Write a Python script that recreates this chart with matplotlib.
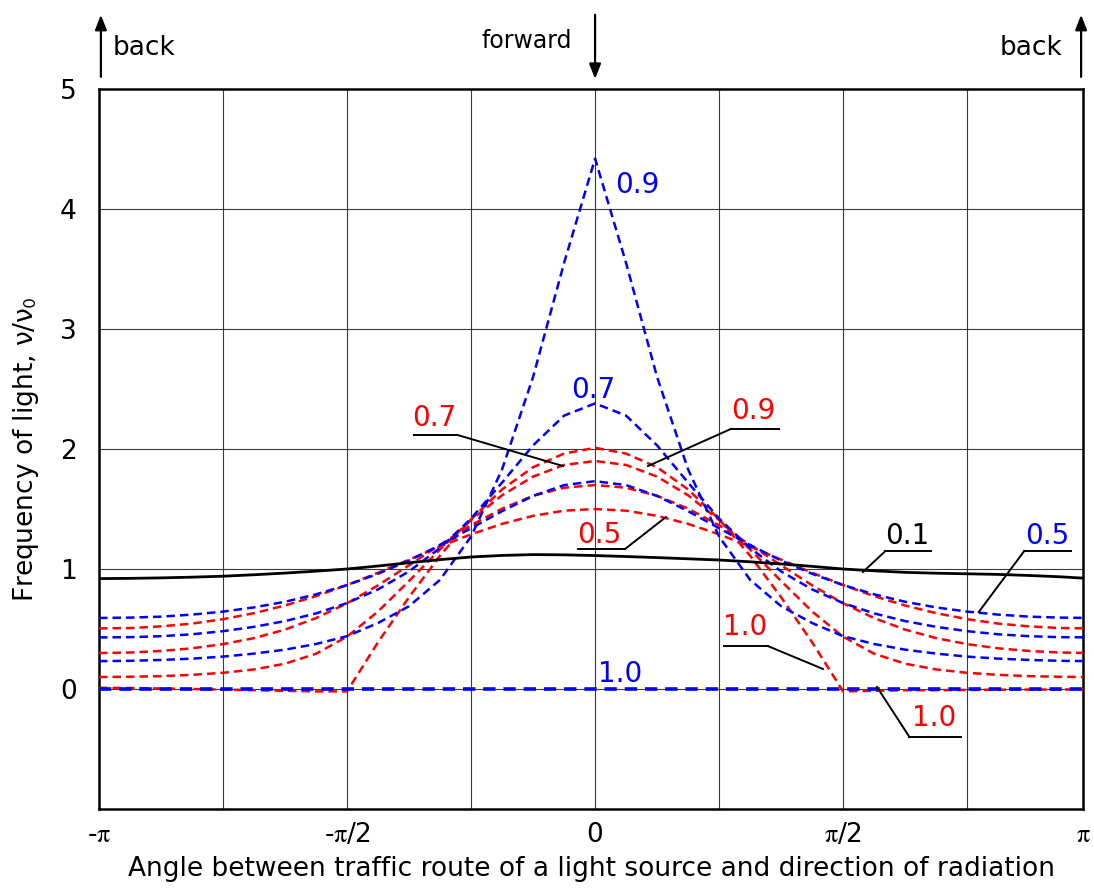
import numpy as np
import matplotlib
matplotlib.use("Agg")
import matplotlib.pyplot as plt

plt.rcParams["font.family"] = ["DejaVu Sans"]
plt.rcParams["mathtext.fontset"] = "stix"

PI = np.pi
# angle samples: k * pi/16, k = -16 .. 16
steps = np.arange(-16, 17)
angle = steps * PI / 16

blue_05 = [0.592, 0.595, 0.603, 0.620, 0.645, 0.680, 0.727, 0.789, 0.866, 0.960, 1.071, 1.199, 1.340, 1.482, 1.609, 1.699, 1.732,
           1.699, 1.609, 1.482, 1.340, 1.199, 1.071, 0.960, 0.866, 0.789, 0.727, 0.680, 0.645, 0.620, 0.603, 0.595, 0.592]
blue_07 = [0.430, 0.432, 0.440, 0.456, 0.482, 0.518, 0.566, 0.630, 0.716, 0.830, 0.980, 1.175, 1.420, 1.720, 2.030, 2.278, 2.380,
           2.278, 2.030, 1.720, 1.420, 1.175, 0.980, 0.830, 0.716, 0.630, 0.566, 0.518, 0.482, 0.456, 0.440, 0.432, 0.430]
blue_09 = [0.232, 0.235, 0.242, 0.253, 0.270, 0.295, 0.328, 0.375, 0.440, 0.550, 0.690, 0.910, 1.270, 1.830, 2.600, 3.550, 4.420,
           3.550, 2.600, 1.830, 1.270, 0.910, 0.690, 0.550, 0.440, 0.375, 0.328, 0.295, 0.270, 0.253, 0.242, 0.235, 0.232]
blue_10 = [0.0, 0.0, 0.0, 0.0, 0.0, 0.0, 0.0, 0.0, 0.0, 0.0, 0.0, 0.0, 0.0, 0.0, 0.0, 0.0, 0.0,
           0.0, 0.0, 0.0, 0.0, 0.0, 0.0, 0.0, 0.0, 0.0, 0.0, 0.0, 0.0, 0.0, 0.0, 0.0, 0.0]

red_05 = [0.505, 0.508, 0.522, 0.545, 0.582, 0.632, 0.696, 0.774, 0.866, 0.969, 1.078, 1.187, 1.289, 1.376, 1.443, 1.486, 1.500,
          1.486, 1.443, 1.376, 1.289, 1.187, 1.078, 0.969, 0.866, 0.774, 0.696, 0.632, 0.582, 0.545, 0.522, 0.508, 0.505]
red_07 = [0.300, 0.304, 0.317, 0.339, 0.374, 0.424, 0.495, 0.591, 0.714, 0.864, 1.031, 1.202, 1.364, 1.503, 1.610, 1.677, 1.700,
          1.677, 1.610, 1.503, 1.364, 1.202, 1.031, 0.864, 0.714, 0.591, 0.495, 0.424, 0.374, 0.339, 0.317, 0.304, 0.300]
red_09 = [0.100, 0.102, 0.107, 0.118, 0.135, 0.163, 0.211, 0.294, 0.436, 0.646, 0.900, 1.163, 1.408, 1.614, 1.770, 1.867, 1.900,
          1.867, 1.770, 1.614, 1.408, 1.163, 0.900, 0.646, 0.436, 0.294, 0.211, 0.163, 0.135, 0.118, 0.107, 0.102, 0.100]
red_10 = [0.010, 0.008, 0.004, 0.000, -0.005, -0.010, -0.015, -0.020, -0.020, 0.390, 0.765, 1.111, 1.414, 1.663, 1.848, 1.962, 2.010,
          1.962, 1.848, 1.663, 1.414, 1.111, 0.765, 0.390, -0.020, -0.015, -0.010, -0.010, -0.008, -0.006, -0.005, -0.004, -0.003]

black_01 = [0.920, 0.922, 0.926, 0.932, 0.940, 0.952, 0.966, 0.982, 1.000, 1.025, 1.052, 1.078, 1.100, 1.113, 1.120, 1.118, 1.112,
            1.104, 1.095, 1.085, 1.075, 1.060, 1.042, 1.022, 1.000, 0.985, 0.972, 0.965, 0.960, 0.955, 0.946, 0.935, 0.920]

x_tick_pos = [-PI, -PI / 2, 0, PI / 2]
x_tick_labels = [r"-$\mathrm{\pi}$", r"-$\mathrm{\pi}$/2", "0", r"$\mathrm{\pi}$/2"]
y_ticks = [0, 1, 2, 3, 4, 5]
X_RIGHT = 3.09

BLUE = "#0000ff"
RED = "#ff0000"

fig = plt.figure(figsize=(10.94, 8.88), dpi=100)
ax = fig.add_axes([99 / 1094, 1 - 809 / 888, (1083 - 99) / 1094, 720 / 888])
ax.set_xlim(-PI, X_RIGHT)
ax.set_ylim(-1, 5)

# grid
for gx in [-3 * PI / 4, -PI / 2, -PI / 4, 0, PI / 4, PI / 2, 3 * PI / 4]:
    ax.axvline(gx, color="#3a3a3a", lw=0.8, zorder=1)
for gy in [0, 1, 2, 3, 4]:
    ax.axhline(gy, color="#3a3a3a", lw=0.8, zorder=1)

dash = (0, (3.4, 2.0))
for ys in [red_05, red_07, red_09, red_10]:
    ax.plot(angle, ys, color=RED, lw=1.8, ls=dash, zorder=3)
for ys in [blue_05, blue_07, blue_09]:
    ax.plot(angle, ys, color=BLUE, lw=1.8, ls=dash, zorder=4)
ax.plot(angle, blue_10, color=BLUE, lw=2.6, ls=(0, (3.4, 2.2)), zorder=4)
ax.plot(angle, black_01, color="black", lw=2.0, zorder=5)

for s in ax.spines.values():
    s.set_linewidth(1.8)
    s.set_color("black")

ax.set_xticks(x_tick_pos + [X_RIGHT])
ax.set_xticklabels(x_tick_labels + [r"$\mathrm{\pi}$"], fontsize=19)
ax.set_yticks(y_ticks)
ax.set_yticklabels([str(v) for v in y_ticks], fontsize=19)
ax.tick_params(length=0, pad=16)
ax.tick_params(axis="x", pad=9)

ax.set_xlabel("Angle between traffic route of a light source and direction of radiation", fontsize=19, labelpad=6)
ax.set_ylabel(r"Frequency of light, ν/ν$_\mathsf{0}$", fontsize=19, labelpad=14)

# direction arrows above the plot
tr = ax.get_xaxis_transform()
arrow_kw = dict(arrowstyle="-|>,head_length=0.9,head_width=0.35", color="black", lw=1.6)
ax.annotate("", xy=(-PI + 0.012, 1.107), xytext=(-PI + 0.012, 1.013), xycoords=tr, textcoords=tr,
            arrowprops=arrow_kw, annotation_clip=False)
ax.annotate("", xy=(X_RIGHT - 0.012, 1.107), xytext=(X_RIGHT - 0.012, 1.013), xycoords=tr, textcoords=tr,
            arrowprops=arrow_kw, annotation_clip=False)
ax.annotate("", xy=(0, 1.010), xytext=(0, 1.107), xycoords=tr, textcoords=tr,
            arrowprops=arrow_kw, annotation_clip=False)
ax.text(-PI + 0.085, 1.057, "back", transform=tr, fontsize=19, ha="left", va="center")
ax.text(X_RIGHT - 0.13, 1.057, "back", transform=tr, fontsize=19, ha="right", va="center")
ax.text(-0.145, 1.067, "forward", transform=tr, fontsize=17, ha="right", va="center")

# curve labels
LBL = 20
ax.text(0.27, 4.2, "0.9", color=BLUE, fontsize=LBL, ha="center", va="center")
ax.text(-0.013, 2.49, "0.7", color=BLUE, fontsize=LBL, ha="center", va="center")
ax.text(0.158, 0.125, "1.0", color=BLUE, fontsize=LBL, ha="center", va="center")

def tag(tx, ty, text, color, ux0, ux1, uy, lx0, ly0, lx1, ly1):
    ax.text(tx, ty, text, color=color, fontsize=LBL, ha="center", va="center", zorder=6)
    ax.plot([ux0, ux1], [uy, uy], color="black", lw=1.4, zorder=6)
    ax.plot([lx0, lx1], [ly0, ly1], color="black", lw=1.4, zorder=6)

tag(-1.018, 2.26, "0.7", RED, -1.144, -0.872, 2.117, -0.872, 2.117, -0.2025, 1.858)
tag(0.999, 2.317, "0.9", RED, 0.86, 1.163, 2.167, 0.86, 2.167, 0.335, 1.858)
tag(0.025, 1.283, "0.5", RED, -0.107, 0.19, 1.167, 0.19, 1.167, 0.449, 1.433)
tag(0.948, 0.517, "1.0", RED, 0.815, 1.094, 0.358, 1.094, 0.358, 1.443, 0.167)
tag(2.149, -0.242, "1.0", RED, 1.991, 2.32, -0.40, 1.991, -0.40, 1.785, 0.017)
tag(1.978, 1.275, "0.1", "black", 1.839, 2.13, 1.15, 1.839, 1.15, 1.696, 0.975)
tag(2.863, 1.275, "0.5", BLUE, 2.718, 3.015, 1.15, 2.718, 1.15, 2.43, 0.642)

fig.savefig("out.png", dpi=100)
